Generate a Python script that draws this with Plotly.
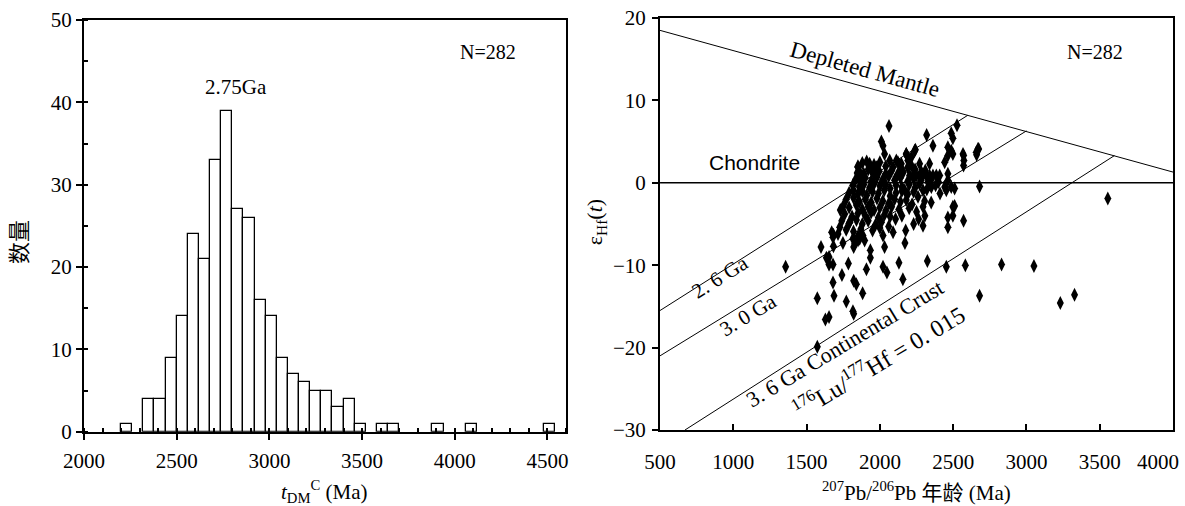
import plotly.graph_objects as go

# ---------------- Left: histogram of tDM^C ----------------
bin_left = [2200, 2320, 2380, 2440, 2500, 2560, 2620, 2680, 2740, 2800, 2860, 2920, 2980,
            3040, 3100, 3160, 3220, 3280, 3340, 3400, 3460, 3580, 3640, 3880, 4060, 4480]
counts = [1, 4, 4, 9, 14, 24, 21, 33, 39, 27, 26, 16, 14,
          9, 7, 6, 5, 5, 3, 4, 1, 1, 1, 1, 1, 1]
bin_width = 60

hist_xticks = [2000, 2500, 3000, 3500, 4000, 4500]
hist_yticks = [0, 10, 20, 30, 40, 50]

# ---------------- Right: eHf(t) vs 207Pb/206Pb age ----------------
age_outer = [2062, 2010, 2021, 2319, 2526, 2487, 2498, 2362, 2237, 2180, 2191, 2464, 2487, 2464, 2498,
             2567, 2573, 2571, 2442, 2658, 2674, 2660, 2339, 2271, 2283, 2215, 2215, 2032, 2067, 2112,
             2146, 2180, 1850, 1862, 1873, 1930, 1942, 1976, 2242, 2189, 2123,
             2203, 2226, 2249, 2271, 2294, 2317, 2339, 2362, 2385, 2408,
             2464, 2464, 2487, 2510, 2442, 2453, 2680, 2510, 2498, 2498, 2294, 2305, 2328, 2351,
             2464, 2464, 2571, 2294, 2307, 2294, 2264, 2171, 2176, 2107, 2021, 2032, 1935, 1935,
             1850, 1850, 1862, 1821, 1816, 1828, 1748, 1683, 1680, 1671, 1683, 1598, 1653, 1653,
             1680, 1635, 1785, 1741, 1680, 1687, 1573, 1628, 1653, 1771, 1816, 1821, 1821, 1839,
             1882, 1908, 2021, 2048, 2130, 2157, 2324, 2453, 2583, 2830, 3051, 2680, 3231, 3328,
             3555, 1357, 1573, 1730, 1794, 1726, 1714, 1884, 1896, 2169, 2571, 2669]
eps_outer = [6.9, 5.0, 4.5, 5.8, 7.0, 6.0, 5.4, 4.5, 3.9, 3.5, 2.7, 4.3, 3.9, 3.3, 3.5,
             3.5, 2.7, 2.1, 2.5, 3.7, 4.1, 3.4, 2.3, 2.3, 1.3, 3.1, 2.1, 3.5, 2.7, 2.7,
             2.3, 3.5, 1.9, 1.3, 0.7, 2.3, 1.5, 1.9, 4.0, 3.2, 2.5,
             0.9, 0.9, 0.9, 0.9, 0.9, 0.9, 0.9, 0.9, 0.9, 0.9,
             1.1, 0.3, -0.5, -0.7, -0.5, -0.9, -0.45, -2.8, -2.9, -4.0, -0.9, -2.2, 0.1, -0.5,
             -4.2, -5.4, -4.6, -2.9, -4.0, -5.2, -4.4, -7.3, -5.8, -4.4, -6.4, -7.8, -8.2, -9.1,
             -6.5, -7.0, -6.8, -7.8, -6.8, -7.4, -7.3, -6.3, -6.6, -6.0, -7.7, -7.8, -9.0, -9.9,
             -9.9, -9.1, -9.8, -11.2, -12.1, -13.7, -14.0, -16.6, -16.3, -14.4, -15.6, -15.9, -11.9, -12.3,
             -13.4, -10.5, -10.2, -10.9, -9.7, -11.7, -9.5, -10.2, -10.0, -9.9, -10.1, -13.7, -14.6, -13.6,
             -1.9, -10.2, -19.9, -3.3, -4.8, -5.4, -6.2, -6.4, -7.0, -0.9, 3.3, 4.1]

age_core = [1850, 1880, 1910, 1960, 2000, 2040, 2090, 2140, 2190,
            1845, 1890, 1920, 1960, 1995, 2040, 2080, 2120, 2160, 2240, 2310,
            1835, 1860, 1900, 1940, 1980, 2020, 2060, 2100, 2140, 2190, 2230, 2280, 2350, 2400,
            1815, 1860, 1890, 1930, 1960, 2000, 2040, 2070, 2110, 2150, 2200, 2240, 2270, 2320, 2380,
            1790, 1820, 1850, 1880, 1910, 1950, 1990, 2030, 2070, 2110, 2150, 2190, 2230, 2260, 2410,
            1770, 1820, 1860, 1900, 1940, 1980, 2020, 2060, 2100, 2140, 2180, 2220, 2350,
            1750, 1790, 1840, 1880, 1920, 1960, 2000, 2040, 2080, 2130, 2200, 2250,
            1760, 1810, 1850, 1900, 1940, 1990, 2030, 2070, 2150,
            1740, 1790, 1840, 1880, 1920, 1970, 2010, 2060, 2230,
            1770, 1820, 1870, 1950, 2000, 2090]
eps_core = [2.0, 2.4, 2.6, 2.2, 2.5, 2.0, 1.9, 1.6, 1.9,
            1.2, 1.1, 1.6, 1.0, 1.4, 1.1, 1.5, 1.0, 1.3, 1.6, 1.5,
            0.4, 0.3, 0.6, 0.2, 0.7, 0.4, 0.8, 0.3, 0.6, 0.2, 0.5, 0.3, 0.4, 0.1,
            -0.3, -0.5, -0.2, -0.6, -0.1, -0.4, -0.2, -0.7, -0.3, -0.5, -0.2, -0.6, -0.1, -0.8, -0.3,
            -1.2, -0.9, -1.4, -1.0, -1.5, -1.1, -1.3, -0.9, -1.6, -1.2, -1.0, -1.4, -1.1, -1.7, -1.3,
            -2.0, -1.8, -2.3, -2.0, -2.4, -1.9, -2.2, -2.5, -2.0, -2.3, -2.1, -2.6, -2.4,
            -2.8, -3.0, -2.7, -3.2, -2.9, -3.3, -3.0, -3.4, -2.9, -3.2, -3.1, -3.5,
            -3.8, -4.1, -3.7, -4.0, -3.6, -4.2, -3.9, -4.1, -4.0,
            -4.6, -4.9, -4.5, -5.0, -4.6, -5.1, -4.8, -5.3, -5.0,
            -5.7, -5.9, -5.6, -5.8, -5.5, -6.0]

dm_age, dm_eps = [500, 4000], [18.5, 1.3]
chon_age, chon_eps = [500, 4000], [0, 0]
l26_age, l26_eps = [500, 2600], [-15.5, 8.2]
l30_age, l30_eps = [500, 3000], [-21.0, 6.3]
l36_age, l36_eps = [670, 3600], [-30.0, 3.3]

sc_xticks = [500, 1000, 1500, 2000, 2500, 3000, 3500, 4000]
sc_xticktext = ["500", "1000", "1500", "2000", "2500", "3000", "3500", ""]
sc_last_tick = "4000"
sc_yticks = [-30, -20, -10, 0, 10, 20]

SERIF = "Liberation Serif, Times New Roman, serif"
CJK = "Liberation Serif, Noto Sans CJK SC, serif"

fig = go.Figure()

fig.add_trace(go.Bar(
    x=[b + bin_width / 2 for b in bin_left], y=counts, width=bin_width,
    marker=dict(color="white", line=dict(color="black", width=1.3)),
    xaxis="x", yaxis="y", showlegend=False))

for ax, ay, w in [(dm_age, dm_eps, 1), (chon_age, chon_eps, 1.5), (l26_age, l26_eps, 1),
                  (l30_age, l30_eps, 1), (l36_age, l36_eps, 1)]:
    fig.add_trace(go.Scatter(x=ax, y=ay, mode="lines", line=dict(color="black", width=w),
                             xaxis="x2", yaxis="y2", showlegend=False))

fig.add_trace(go.Scatter(
    x=age_outer + age_core, y=eps_outer + eps_core, mode="markers",
    marker=dict(symbol="diamond-tall", size=10, color="black", line=dict(width=0)),
    xaxis="x2", yaxis="y2", showlegend=False))

axis_common = dict(showline=True, linecolor="black", linewidth=2, mirror=True,
                   showgrid=False, zeroline=False, ticks="outside", ticklen=6,
                   tickwidth=1.5, tickcolor="black", automargin=False,
                   tickfont=dict(family=SERIF, size=21, color="black"))

fig.update_layout(
    width=1185, height=506,
    margin=dict(l=0, r=0, t=0, b=0, autoexpand=False),
    paper_bgcolor="white", plot_bgcolor="white",
    bargap=0,
    xaxis=dict(domain=[0.0709, 0.4776], range=[2000, 4600], anchor="y",
               tickvals=hist_xticks, ticklabelstandoff=3,
               minor=dict(dtick=100, tick0=2000, ticks="inside", ticklen=4, tickcolor="black"),
               **axis_common),
    yaxis=dict(domain=[0.1468, 0.9605], range=[0, 50], anchor="x",
               tickvals=hist_yticks, ticklabelstandoff=0,
               minor=dict(dtick=5, tick0=0, ticks="inside", ticklen=4, tickcolor="black"),
               **axis_common),
    xaxis2=dict(domain=[0.557, 0.9899], range=[500, 4000], anchor="y2",
                tickvals=sc_xticks, ticktext=sc_xticktext, ticklabelstandoff=12,
                **{**axis_common, "ticks": "inside"}),
    yaxis2=dict(domain=[0.1502, 0.9644], range=[-30, 20], anchor="x2",
                tickvals=sc_yticks, ticklabelstandoff=2,
                **axis_common),
)

ann = []
def txt(text, x, y, xref, yref, size=20, angle=0, family=SERIF, xanchor="center", xshift=0):
    ann.append(dict(text=text, x=x, y=y, xref=xref, yref=yref, showarrow=False,
                    textangle=angle, font=dict(family=family, size=size, color="black"),
                    xanchor=xanchor, yanchor="middle", xshift=xshift))

# left panel texts
txt("N=282", 4177, 46.1, "x", "y", 20)
txt("2.75Ga", 2818, 41.9, "x", "y", 21)
txt("<i>t</i><sub>DM</sub><sup>C</sup> (Ma)", 0.274, 0.028, "paper", "paper", 21)
txt("数量", 0.017, 0.522, "paper", "paper", 22, -90, CJK)

# right panel texts
txt("N=282", 3465, 15.85, "x2", "y2", 20)
txt("Depleted Mantle", 1900, 13.8, "x2", "y2", 23, 15.5)
txt("Chondrite", 1144, 2.45, "x2", "y2", 21, 0, "Liberation Sans, Arial, sans-serif")
txt("2. 6 Ga", 909, -11.4, "x2", "y2", 21, -32)
txt("3. 0 Ga", 1100, -16.0, "x2", "y2", 21, -31)
txt("3. 6 Ga Continental Crust", 1760, -19.5, "x2", "y2", 22, -31)
txt("<sup>176</sup>Lu/<sup>177</sup>Hf = 0. 015", 1990, -21.6, "x2", "y2", 24, -31)
txt("ε<sub>Hf</sub>(<i>t</i>)", 0.503, 0.561, "paper", "paper", 22, -90)
txt("<sup>207</sup>Pb/<sup>206</sup>Pb 年龄 (Ma)", 0.773, 0.028, "paper", "paper", 21, 0, CJK)
# last tick label of the right x axis, kept inside the page edge
txt(sc_last_tick, sc_xticks[-1], 0.087, "x2", "paper", 21, 0, SERIF, "right", 8)

fig.update_layout(annotations=ann)

fig.write_html("out.html", config={"displayModeBar": False},
               post_script="document.body.style.margin='0px';")
